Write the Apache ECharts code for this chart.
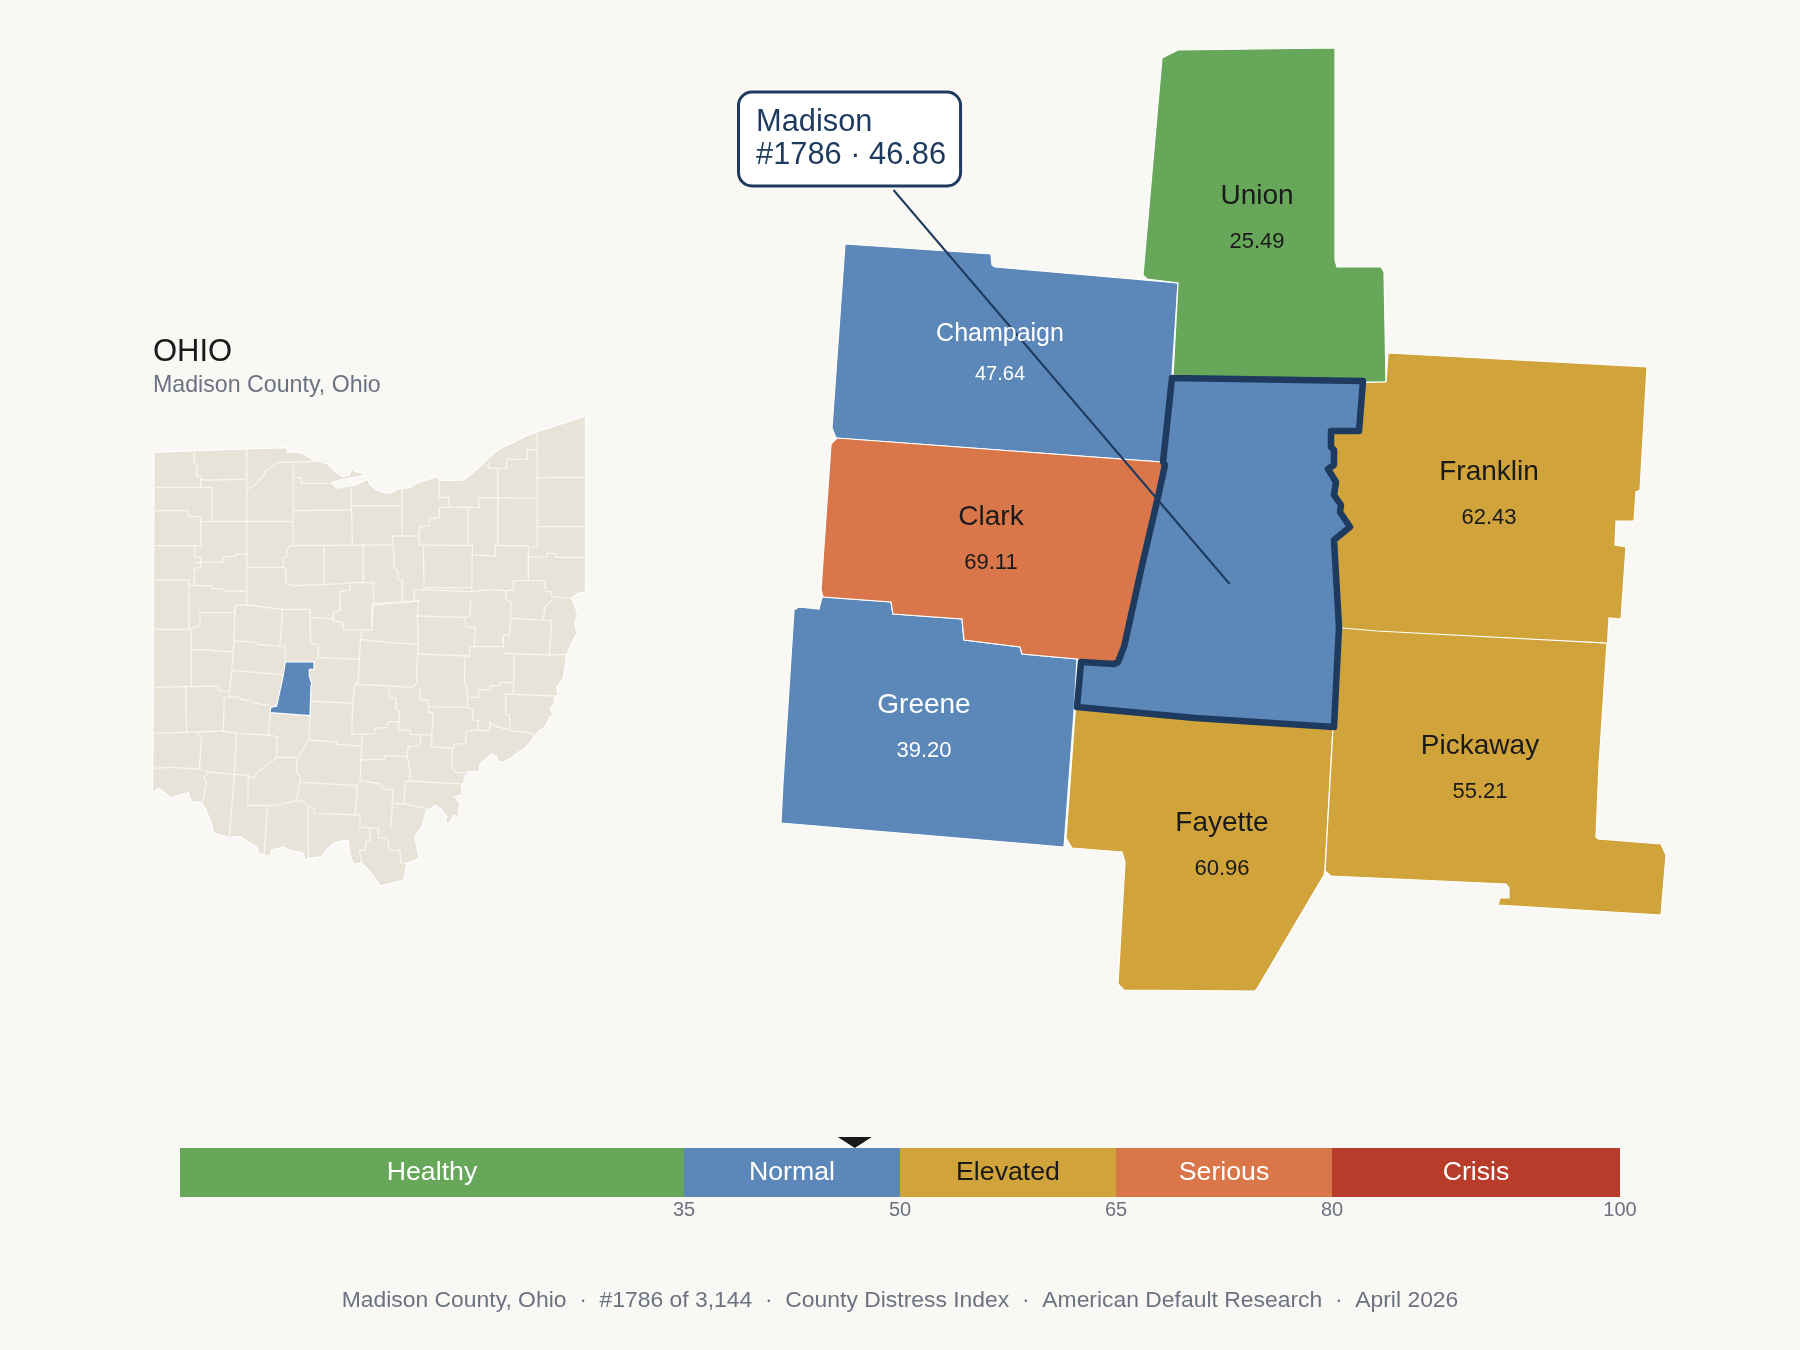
<!DOCTYPE html>
<html>
<head>
<meta charset="utf-8">
<title>Madison County, Ohio</title>
<script src="https://cdn.jsdelivr.net/npm/echarts@6/dist/echarts.min.js"></script>
<style>
	html, body { margin: 0; padding: 0; background: #faf8f4; }
	#chart { width: 1800px; height: 1350px; }
</style>
</head>
<body>
<div id="chart"></div>
<script>
/*--data---*/
var countyNames = ['Union', 'Champaign', 'Franklin', 'Clark', 'Greene', 'Fayette', 'Pickaway', 'Madison'];
var countyScores = [25.49, 47.64, 62.43, 69.11, 39.20, 60.96, 55.21, 46.86];
var focusRank = 1786;
var focusScore = 46.86;
var bandNames = ['Healthy', 'Normal', 'Elevated', 'Serious', 'Crisis'];
var bandEdges = [0, 35, 50, 65, 80, 100];
var tickLabels = [35, 50, 65, 80, 100];

/*--county shapes, traced in page pixels---*/
var unionShape = [[1162,58],[1178,50],[1335,48],[1335,260],[1337,267],[1381,267],[1384,272],[1386,382],[1363,382],[1363,395],[1172,395],[1178,283],[1147,279],[1143,275]];
var champaignShape = [[845,244],[991,254],[992,265],[995,267],[1178,283],[1172,375],[1175,470],[1162,462],[836,438],[832,428]];
var franklinShape = [[1388,353],[1647,367],[1640,490],[1636,492],[1634,521],[1616,521],[1615,545],[1626,547],[1621,619],[1609,618],[1607.5,643],[1377,631],[1320,626],[1320,425],[1345,400],[1345,383],[1386,382]];
var clarkShape = [[837,438],[831,444],[821,590],[823,597],[891,602],[893,614],[962,619],[964,640],[1020,647],[1022,654],[1077,659],[1120,680],[1180,480],[1161,462]];
var greeneShape = [[822,597],[891,602],[893,614],[962,619],[964,640],[1020,647],[1022,654],[1077,659],[1074,712],[1064,847],[781,823],[783,783],[794,610],[799,607],[819,609]];
var fayetteShape = [[1076,700],[1340,715],[1333,728],[1325,871],[1324,875],[1258,987],[1255,991],[1124,990],[1118,984],[1125,862],[1122,852],[1072,848],[1066,838]];
var pickawayShape = [[1320,626],[1607,643],[1599,765],[1596,837],[1598,839],[1661,844],[1666,855],[1661,915],[1498,905],[1500,898],[1509,898],[1509,888],[1506,884],[1331,876],[1325,871],[1333,728]];
var madisonShape = [[1172,378],[1363,381],[1359,431],[1331,431],[1331,447],[1334,450],[1334,465],[1328,469],[1336,482],[1334,495],[1341,505],[1340,512],[1350,527],[1334,540],[1339,627],[1334,727],[1195,718],[1077,707],[1081,662],[1114,664],[1118,662],[1124,647],[1141,570],[1158,497],[1165,465],[1163,462]];

/*--leader line and callout anchors---*/
var leaderLine = [[893.5,190],[1229.6,584]];
var calloutAnchor = [739.5,139];
var countyLabelAt = {
	Union: [1257,219], Champaign: [1000,354], Franklin: [1489,495], Clark: [991,540],
	Greene: [924,728], Fayette: [1222,846], Pickaway: [1480,769]
};

var ohioNorthShore = [[72,397],[193,392],[350,387],[470,383],[472,397],[490,395],[520,400],[550,420],[590,430],[615,455],[640,470],[658,465],[665,442],[675,455],[700,458],[695,468],[670,472],[630,480],[605,488],[615,500],[625,505],[645,500],[680,495],[705,480],[715,480],[720,495],[750,515],[770,520],[790,515],[810,505],[840,503],[865,487],[920,470],[930,480],[960,482],[1000,480],[1020,465],[1060,430],[1080,410],[1110,385],[1140,372],[1190,348],[1222,335],[1285,315],[1367,288],[1367,815],[1340,822],[1325,835]];
var ohioRiver = [[1343,40],[1335,70],[1340,100],[1325,130],[1310,165],[1305,200],[1300,235],[1280,262],[1285,285],[1275,290],[1272,315],[1260,325],[1270,345],[1260,352],[1245,380],[1225,395],[1205,420],[1185,445],[1160,460],[1150,470],[1115,488],[1105,485],[1100,470],[1085,462],[1070,475],[1050,492],[1048,515],[1015,515],[1005,535],[1000,550],[995,555],[995,585],[975,590],[990,610],[985,640],[990,652],[970,645],[960,668],[945,670],[950,650],[935,628],[915,615],[905,625],[890,630],[875,680],[855,710],[862,750],[867,775],[845,785],[830,790],[822,840],[790,848],[750,858],[740,840],[715,810],[695,790],[670,792],[660,765],[655,722],[640,722],[610,730],[590,750],[575,770],[535,775],[525,782],[520,760],[480,750],[460,742],[425,750],[420,770],[385,760],[380,740],[360,730],[330,710],[298,713],[250,700],[245,670],[225,625],[215,608],[185,605],[175,578],[150,585],[125,593],[100,575],[85,565],[68,580]];
var ohioMadison = [[466,186],[552,186],[552,207],[538,208],[538,228],[545,250],[543,258],[540,347],[420,338],[422,322],[440,318],[460,225]];
var ohioNorthBorders = [
	[[193,392],[193,430],[200,432],[200,468],[212,470],[212,502]],
	[[72,502],[245,502],[245,605]],
	[[212,480],[350,478]],
	[[350,387],[350,855]],
	[[350,508],[375,495],[400,470],[405,455],[440,428],[590,423]],
	[[490,428],[490,675]],
	[[490,473],[513,473],[513,490],[605,490]],
	[[663,503],[665,570],[667,675]],
	[[490,572],[665,570]],
	[[665,557],[815,558]],
	[[815,503],[817,648]],
	[[72,572],[175,572],[175,590],[212,590],[212,676],[195,677],[195,710],[212,712],[212,742],[193,745],[193,797]],
	[[212,605],[350,604],[490,605]],
	[[72,677],[195,677]],
	[[350,742],[460,742],[460,712],[470,710],[470,690],[480,677],[790,675]],
	[[195,727],[280,727],[280,710],[316,710],[316,703],[350,703]],
	[[72,780],[177,780],[177,840]],
	[[177,797],[245,797],[248,806],[280,806],[282,813],[350,813]],
	[[460,742],[467,745],[467,790],[487,797],[658,790],[660,787],[730,788],[730,820],[733,850]],
	[[583,675],[583,790]],
	[[700,675],[700,787]],
	[[787,648],[790,675],[793,745],[803,752],[805,780],[817,782],[817,850]],
	[[787,648],[867,648],[868,620],[898,618],[898,595],[928,593],[928,562],[1015,562],[1015,675]],
	[[868,648],[868,675],[1027,677],[1027,705],[1095,708],[1097,677],[1195,677],[1195,780]],
	[[880,675],[882,803]],
	[[1027,705],[1025,810]],
	[[928,470],[928,532],[955,532],[958,562],[1050,562],[1043,533],[1103,533],[1220,535]],
	[[1103,448],[1103,675]],
	[[1075,425],[1075,445],[1130,445],[1130,418],[1192,418],[1192,390],[1222,390]],
	[[1222,335],[1222,680],[1195,683]],
	[[1222,473],[1367,472]],
	[[1222,620],[1367,620]],
	[[1195,710],[1250,712],[1252,700],[1277,700],[1277,712],[1367,712]],
	[[882,803],[1025,803]],
	[[853,808],[1020,815],[1085,808],[1127,813],[1150,810],[1150,782],[1245,782],[1247,815],[1265,815],[1265,830],[1325,835]],
	[[853,808],[853,840],[865,843],[725,852]],
	[[1127,813],[1127,838],[1142,845],[1142,895]],
	[[630,870],[630,815],[660,810],[660,787]]
];
var ohioSouthBorders = [
	[[176,0],[176,85]],
	[[68,88],[183,88],[184,258]],
	[[176,85],[210,78],[210,38],[315,38],[316,17],[350,15],[458,28],[540,28],[542,52],[610,57],[610,38],[630,30],[630,0]],
	[[725,10],[725,90]],
	[[315,17],[312,120],[305,210],[297,292],[283,292],[280,393]],
	[[184,150],[248,150],[250,153],[306,155]],
	[[312,122],[380,128],[380,133],[466,140],[466,185]],
	[[458,28],[450,135]],
	[[540,28],[542,130],[565,132],[565,172],[552,187]],
	[[305,212],[460,224]],
	[[68,262],[167,260],[265,258],[266,272],[298,275]],
	[[167,260],[170,397]],
	[[68,400],[170,397],[280,393],[320,400],[415,405],[442,410],[440,472]],
	[[297,290],[330,292],[332,298],[365,302],[367,308],[420,317]],
	[[420,338],[415,405]],
	[[540,345],[537,420],[503,472],[440,472],[380,520],[370,535],[365,535],[355,527],[315,523],[237,516],[220,535],[230,545],[225,570],[217,610]],
	[[320,400],[313,522],[298,713]],
	[[205,393],[205,407],[215,408],[208,507],[120,502],[68,505]],
	[[237,516],[208,507]],
	[[355,527],[353,616],[412,616],[403,765]],
	[[412,616],[435,616],[500,602],[520,604],[535,620],[552,627],[553,640],[690,645],[690,682],[745,685],[745,712],[773,715],[778,750],[810,752],[812,788],[830,790]],
	[[535,620],[535,775]],
	[[503,472],[498,515],[512,530],[500,602]],
	[[512,547],[682,557],[676,642]],
	[[537,420],[620,426],[622,433],[695,438],[690,540],[682,557]],
	[[540,303],[668,310],[665,403],[697,403],[695,438]],
	[[565,172],[688,178],[685,245],[675,253],[668,310]],
	[[675,253],[778,258],[848,262],[860,248],[862,165],[865,132],[775,128],[692,118],[688,178]],
	[[692,118],[695,90],[640,88],[638,67],[610,62],[610,57]],
	[[695,90],[725,90],[730,15],[862,3]],
	[[865,132],[862,48],[865,0]],
	[[862,48],[1005,52],[1008,80],[1035,83],[1033,140],[1020,140],[1018,168],[862,162]],
	[[1018,168],[1005,170],[1003,250],[1012,265],[1013,322]],
	[[1033,140],[1120,140],[1120,105],[1138,105],[1142,55]],
	[[1120,160],[1258,165],[1310,163]],
	[[1142,55],[1265,62],[1258,165]],
	[[1153,160],[1150,280]],
	[[1005,52],[1020,50],[1022,0]],
	[[778,258],[778,292],[798,295],[798,328],[808,335],[806,388],[840,392],[842,403],[905,405],[910,338],[896,337],[895,300],[870,298],[870,265]],
	[[896,320],[1013,322],[1028,328],[1028,360],[1045,362],[1045,390],[1008,393],[1007,430],[973,432],[970,445],[903,440],[907,405]],
	[[1013,292],[1045,292],[1047,270],[1080,268],[1082,258],[1107,258],[1108,248],[1150,247]],
	[[1127,282],[1275,288]],
	[[1127,282],[1127,342],[1138,345],[1140,392],[1210,400],[1210,410]],
	[[1045,390],[1078,393],[1080,368],[1100,380],[1138,390]],
	[[967,445],[965,495],[975,517],[1003,518],[1003,535]],
	[[806,365],[775,365],[771,382],[735,385],[733,400],[697,403]],
	[[873,405],[870,437],[835,440],[830,470],[765,467],[763,478],[730,478],[690,480]],
	[[832,470],[840,510],[838,543],[825,545],[822,612],[790,610]],
	[[838,543],[995,552]],
	[[690,542],[722,547],[755,552],[757,567],[790,570],[782,685]],
	[[822,612],[890,625]],
	[[720,685],[720,722],[708,725],[705,750],[688,752],[695,787]],
	[[1240,55],[1245,20],[1265,0]]
];

/*--colors---*/
var bandColors = ['#67a75a', '#5b88b9', '#d1a43b', '#d9774b', '#b83c2a'];
var navy = '#1e3a5f';
var ink = '#1a1a1a';
var gray = '#6b7280';
var land = '#e8e3d8';
var fontName = '"Liberation Sans", Arial, sans-serif';

// crop pixels to page pixels, the two crops start at y 320 and y 600
function northPt(p) { return [130 + p[0] / 3, 320 + p[1] / 3]; }
function southPt(p) { return [130 + p[0] / 3, 600 + p[1] / 3]; }
// geo y goes up, page y goes down
function toGeo(p) { return [p[0], -p[1]]; }
function ring(pts) { return pts.concat([pts[0]]).map(toGeo); }
function feature(name, pts) {
	return {
		type: 'Feature',
		properties: { name: name },
		geometry: { type: 'Polygon', coordinates: [ring(pts)] }
	};
}

var countyShapes = [unionShape, champaignShape, franklinShape, clarkShape, greeneShape, fayetteShape, pickawayShape, madisonShape];
var ohioOutline = ohioNorthShore.map(northPt).concat(ohioRiver.map(southPt));
var ohioLines = ohioNorthBorders.map(function(l) { return l.map(northPt); })
	.concat(ohioSouthBorders.map(function(l) { return l.map(southPt); }));

// shapes overlap under madison, it goes last and covers the seams
var features = [feature('Ohio', ohioOutline), feature('Madison locator', ohioMadison.map(southPt))];
var drawOrder = [1, 0, 4, 3, 5, 6, 2, 7];
drawOrder.forEach(function(i) {
	features.push(feature(countyNames[i], countyShapes[i]));
});
echarts.registerMap('page', { type: 'FeatureCollection', features: features });

var regionData = countyNames.map(function(name, i) {
	return { name: name, value: countyScores[i] };
});
regionData.push({ name: 'Madison locator', value: focusScore });

var pieces = bandNames.map(function(name, i) {
	return { min: bandEdges[i], max: bandEdges[i + 1], color: bandColors[i] };
});

var labelData = [];
countyNames.forEach(function(name, i) {
	if (!countyLabelAt[name]) return;
	var onBlue = countyScores[i] >= 35 && countyScores[i] < 50;
	var small = name === 'Champaign';
	var textColor = onBlue ? '#ffffff' : ink;
	labelData.push({
		name: name,
		value: [countyLabelAt[name][0], -countyLabelAt[name][1], countyScores[i]],
		label: {
			rich: {
				n: { fontFamily: fontName, fontSize: small ? 25 : 28, lineHeight: small ? 40 : 45, color: textColor },
				v: { fontFamily: fontName, fontSize: small ? 20 : 22, lineHeight: small ? 40 : 45, color: textColor }
			}
		}
	});
});

var series = [{
	type: 'map',
	geoIndex: 0,
	silent: true,
	data: regionData
}, {
	type: 'lines',
	coordinateSystem: 'geo',
	polyline: true,
	silent: true,
	z: 3,
	lineStyle: { color: '#f7f5f0', width: 1.3, opacity: 1 },
	data: ohioLines.map(function(l) { return { coords: l.map(toGeo) }; })
}, {
	type: 'lines',
	coordinateSystem: 'geo',
	polyline: true,
	silent: true,
	z: 4,
	lineStyle: { color: navy, width: 2, opacity: 1 },
	data: [{ coords: leaderLine.map(toGeo) }]
}, {
	type: 'lines',
	coordinateSystem: 'geo',
	polyline: true,
	silent: true,
	z: 5,
	lineStyle: { color: navy, width: 6.5, opacity: 1, join: 'round', cap: 'round' },
	data: [{ coords: ring(madisonShape) }]
}, {
	type: 'scatter',
	coordinateSystem: 'geo',
	silent: true,
	symbolSize: 0,
	z: 6,
	itemStyle: { opacity: 1 },
	label: {
		show: true,
		position: 'inside',
		formatter: function(p) { return '{n|' + p.name + '}\n{v|' + p.value[2].toFixed(2) + '}'; }
	},
	data: labelData
}, {
	type: 'scatter',
	coordinateSystem: 'geo',
	silent: true,
	symbolSize: 1,
	z: 7,
	itemStyle: { opacity: 1, color: navy },
	label: {
		show: true,
		position: 'right',
		distance: 0,
		formatter: 'Madison\n#' + focusRank + ' · ' + focusScore.toFixed(2),
		fontFamily: fontName,
		fontSize: 30.8,
		lineHeight: 33,
		color: navy,
		backgroundColor: '#ffffff',
		borderColor: navy,
		borderWidth: 3,
		borderRadius: 12,
		padding: [12.5, 13, 12.5, 16]
	},
	data: [{ name: 'Madison', value: toGeo(calloutAnchor) }]
}];

bandNames.forEach(function(name, i) {
	series.push({
		type: 'bar',
		name: name,
		stack: 'bands',
		barWidth: '100%',
		silent: true,
		itemStyle: { color: bandColors[i] },
		label: {
			show: true,
			position: 'inside',
			formatter: name,
			fontFamily: fontName,
			fontSize: 26.7,
			color: name === 'Elevated' ? ink : '#ffffff'
		},
		data: [bandEdges[i + 1] - bandEdges[i]]
	});
});
series.push({
	type: 'scatter',
	silent: true,
	symbol: 'triangle',
	symbolRotate: 180,
	symbolSize: [34, 11],
	symbolOffset: [0, -30],
	clip: false,
	z: 8,
	itemStyle: { color: ink, opacity: 1 },
	data: [[focusScore, 0]]
});

var option = {
	backgroundColor: '#faf8f4',
	animation: false,
	title: [{
		text: 'OHIO',
		left: 153,
		top: 337,
		padding: 0,
		textStyle: { fontFamily: fontName, fontSize: 31, fontWeight: 'normal', color: ink }
	}, {
		text: 'Madison County, Ohio',
		left: 153,
		top: 374,
		padding: 0,
		textStyle: { fontFamily: fontName, fontSize: 23.2, fontWeight: 'normal', color: gray }
	}, {
		text: 'Madison County, Ohio  ·  #1786 of 3,144  ·  County Distress Index  ·  American Default Research  ·  April 2026',
		left: 'center',
		top: 1289.5,
		padding: 0,
		textStyle: { fontFamily: fontName, fontSize: 22.9, fontWeight: 'normal', color: gray }
	}],
	visualMap: {
		type: 'piecewise',
		show: false,
		seriesIndex: 0,
		pieces: pieces
	},
	geo: {
		map: 'page',
		left: 0,
		top: 0,
		width: 1800,
		height: 1350,
		aspectScale: 1,
		boundingCoords: [[0, 0], [1800, -1350]],
		roam: false,
		silent: true,
		label: { show: false },
		itemStyle: { areaColor: land, borderColor: '#ffffff', borderWidth: 1.2 }
	},
	grid: { left: 180, top: 1148, width: 1440, height: 49 },
	xAxis: {
		type: 'value',
		min: 0,
		max: 100,
		splitLine: { show: false },
		axisLine: { show: false },
		axisTick: { show: false },
		axisLabel: {
			customValues: tickLabels,
			margin: 3,
			fontFamily: fontName,
			fontSize: 20,
			color: gray
		}
	},
	yAxis: { type: 'category', show: false, data: ['bands'] },
	series: series
};

var myChart = echarts.init(document.getElementById('chart'));
myChart.setOption(option);
</script>
</body>
</html>
